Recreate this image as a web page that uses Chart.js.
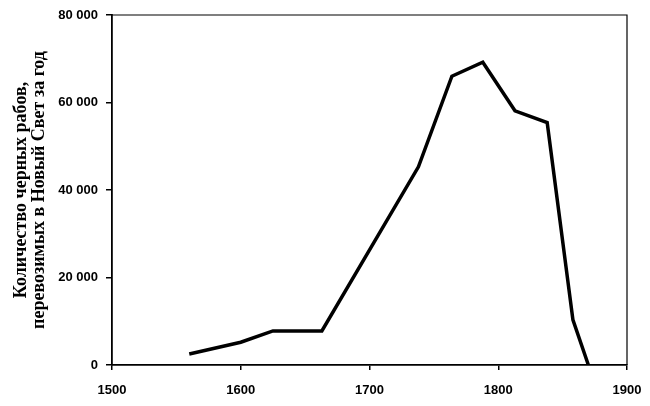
<!DOCTYPE html>
<html>
<head>
<meta charset="utf-8">
<script src="https://cdn.jsdelivr.net/npm/chart.js@4"></script>
<style>
  html, body { margin: 0; padding: 0; background: #fff; }
  #wrap { width: 650px; height: 406px; position: relative; }
</style>
</head>
<body>
<div id="wrap"><canvas id="c" width="650" height="406"></canvas></div>
<script>
// Data
const years  = [1560, 1600, 1625, 1663, 1738, 1764, 1788, 1813, 1838, 1858, 1870];
const slaves = [2500, 5200, 7800, 7800, 45300, 66000, 69200, 58100, 55400, 10300, 0];
const xTicks = [1500, 1600, 1700, 1800, 1900];
const yTicks = [0, 20000, 40000, 60000, 80000];
const yTitle = ['Количество черных рабов,', 'перевозимых в Новый Свет за год'];

const points = years.map((y, i) => ({ x: y, y: slaves[i] }));

const frame = {
  id: 'frame',
  afterDatasetsDraw(chart) {
    const a = chart.chartArea, ctx = chart.ctx;
    ctx.save();
    ctx.strokeStyle = '#000';
    ctx.lineWidth = 1.2;
    ctx.beginPath();
    ctx.moveTo(a.left, a.top); ctx.lineTo(a.right, a.top); ctx.lineTo(a.right, a.bottom);
    ctx.stroke();
    ctx.restore();
  }
};

const fmt = v => String(v).replace(/\B(?=(\d{3})+(?!\d))/g, ' ');
const tickFont = { family: 'Liberation Sans, Arial, sans-serif', size: 13, weight: 'bold' };

new Chart(document.getElementById('c'), {
  type: 'line',
  data: {
    datasets: [{
      data: points,
      borderColor: '#000',
      borderWidth: 3.5,
      pointRadius: 0,
      tension: 0,
      fill: false,
      borderJoinStyle: 'miter'
    }]
  },
  options: {
    responsive: false,
    animation: false,
    layout: { padding: { top: 15, right: 23, bottom: 0, left: 0 } },
    plugins: { legend: { display: false }, tooltip: { enabled: false } },
    scales: {
      x: {
        type: 'linear',
        min: xTicks[0], max: xTicks[xTicks.length - 1],
        afterBuildTicks: s => { s.ticks = xTicks.map(v => ({ value: v })); },
        afterFit: s => { s.height = 41; s.paddingLeft = 0; s.paddingRight = 0; },
        border: { color: '#000', width: 1.8 },
        grid: { drawOnChartArea: false, color: '#000', tickLength: 5, lineWidth: 1.5 },
        ticks: {
          color: '#000', padding: 13,
          font: tickFont,
          callback: v => String(v)
        }
      },
      y: {
        min: 0, max: 80000,
        afterBuildTicks: s => { s.ticks = yTicks.map(v => ({ value: v })); },
        afterFit: s => { s.width = 112; s.paddingTop = 0; s.paddingBottom = 0; },
        border: { color: '#000', width: 1.8 },
        grid: { drawOnChartArea: false, color: '#000', tickLength: 6, lineWidth: 1.5 },
        ticks: {
          color: '#000', padding: 8,
          font: tickFont,
          callback: v => fmt(v)
        },
        title: {
          display: true,
          text: yTitle,
          color: '#000',
          padding: { top: 12, bottom: 0 },
          font: { family: 'Liberation Serif, Times New Roman, serif', size: 18, weight: 'bold', lineHeight: 1.0 }
        }
      }
    }
  },
  plugins: [frame]
});
</script>
</body>
</html>
